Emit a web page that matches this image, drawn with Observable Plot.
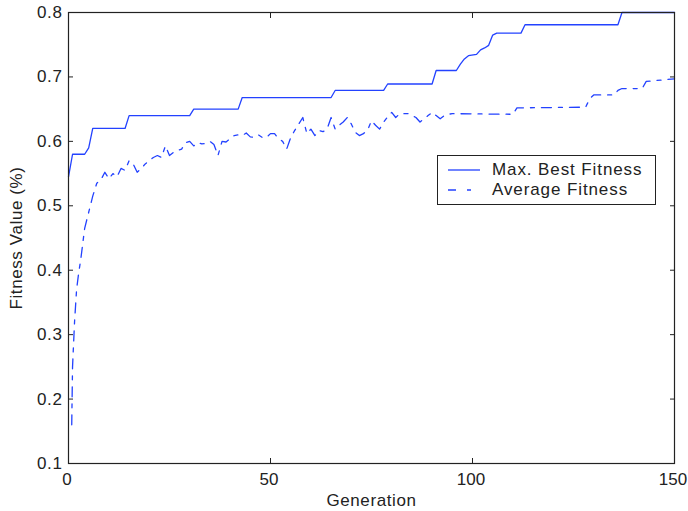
<!DOCTYPE html>
<html>
<head>
<meta charset="utf-8">
<script src="https://cdn.jsdelivr.net/npm/d3@7"></script>
<script src="https://cdn.jsdelivr.net/npm/@observablehq/plot@0.6"></script>
<style>
  html, body { margin: 0; padding: 0; background: #fff; }
  #wrap { position: relative; width: 688px; height: 511px; font-family: "Liberation Sans", Arial, sans-serif; }
  #wrap svg text { letter-spacing: 0.6px; }
  #wrap svg g[aria-label="x-axis tick label"] text { letter-spacing: 0; }
  #legend { position: absolute; left: 437px; top: 155px; width: 219px; height: 50px; border: 1px solid #222; background: #fff; box-sizing: border-box; }
  #legend .row { position: absolute; left: 0; height: 20px; display: flex; align-items: center; font-size: 17px; color: #222; letter-spacing: 0.9px; white-space: nowrap; }
  #legend svg { margin-left: 10px; margin-right: 12px; }
</style>
</head>
<body>
<div id="wrap"></div>
<script>
// ---- data ----
const bestGen = [0, 1, 4, 5, 6, 14, 15, 30, 31, 42, 43, 65, 66, 78, 79, 90, 91, 96, 97, 98, 99, 101, 102, 103, 104, 105, 106, 112, 113, 136, 137, 150];
const bestVal = [0.545, 0.58, 0.58, 0.59, 0.62, 0.62, 0.64, 0.64, 0.65, 0.65, 0.668, 0.668, 0.679, 0.679, 0.689, 0.689, 0.71, 0.71, 0.72, 0.728, 0.733, 0.735, 0.742, 0.745, 0.749, 0.765, 0.768, 0.768, 0.781, 0.781, 0.8, 0.8];

const avgGen = [0.8, 1, 1.5, 2, 2.5, 3, 3.5, 4, 5, 6, 7, 8, 9, 10, 11, 12, 13, 14, 15, 16, 17, 18, 19, 20,
  21, 22, 23, 24, 25, 26, 27, 28, 29, 30, 31, 32, 33, 34, 35, 36, 37, 38, 39, 40,
  41, 42, 43, 44, 45, 46, 47, 48, 49, 50, 51, 52, 53, 54, 55, 56, 57, 58, 59, 60,
  61, 62, 63, 64, 65, 66, 67, 68, 69, 70, 71, 72, 73, 74, 75, 76, 77, 78, 79, 80,
  81, 82, 83, 84, 85, 86, 87, 88, 89, 90, 91, 92, 93, 94, 95, 110, 111, 128, 129, 130, 135, 136, 137, 142, 143, 150];
const avgVal = [0.16, 0.25, 0.32, 0.37, 0.395, 0.415, 0.44, 0.465, 0.49, 0.515, 0.535, 0.54, 0.552, 0.542, 0.55, 0.545, 0.558, 0.555, 0.57, 0.565, 0.552, 0.558, 0.565, 0.57,
  0.575, 0.578, 0.575, 0.593, 0.578, 0.583, 0.586, 0.588, 0.598, 0.6, 0.593, 0.598, 0.596, 0.597, 0.6, 0.595, 0.578, 0.6, 0.599, 0.604,
  0.609, 0.61, 0.609, 0.613, 0.607, 0.606, 0.61, 0.606, 0.606, 0.612, 0.612, 0.604, 0.6, 0.588, 0.606, 0.617, 0.627, 0.637, 0.612, 0.619,
  0.609, 0.617, 0.615, 0.619, 0.637, 0.619, 0.625, 0.63, 0.637, 0.627, 0.614, 0.609, 0.612, 0.617, 0.632, 0.625, 0.619, 0.63, 0.638, 0.645,
  0.637, 0.643, 0.643, 0.643, 0.64, 0.637, 0.63, 0.635, 0.64, 0.645, 0.64, 0.635, 0.64, 0.642, 0.643, 0.642, 0.652, 0.653, 0.666, 0.672, 0.672, 0.679, 0.682, 0.682, 0.693, 0.697];

const xTicks = [0, 50, 100, 150];
const yTicks = [0.1, 0.2, 0.3, 0.4, 0.5, 0.6, 0.7, 0.8];
const seriesNames = ["Max. Best Fitness", "Average Fitness"];
const lineColor = "#2342ff";
const dash = "10,7,4,7";

const best = bestGen.map((g, i) => ({gen: g, val: bestVal[i]}));
const avg = avgGen.map((g, i) => ({gen: g, val: avgVal[i]}));

const chart = Plot.plot({
  width: 688,
  height: 511,
  marginLeft: 68,
  marginRight: 14,
  marginTop: 12,
  marginBottom: 48,
  x: {domain: [0, 150]},
  y: {domain: [0.1, 0.8]},
  style: {fontFamily: "'Liberation Sans', Arial, sans-serif", fontSize: "17px", color: "#222", background: "#fff", overflow: "visible"},
  marks: [
    Plot.line(avg, {x: "gen", y: "val", stroke: lineColor, strokeWidth: 1.3, strokeDasharray: dash}),
    Plot.line(best, {x: "gen", y: "val", stroke: lineColor, strokeWidth: 1.3}),
    Plot.frame({stroke: "#222", strokeWidth: 1.2}),
    Plot.axisX(xTicks, {anchor: "bottom", tickSize: -5, fill: "none", stroke: "#222"}),
    Plot.axisX(xTicks, {anchor: "top", tickSize: -5, fill: "none", stroke: "#222"}),
    Plot.axisY(yTicks, {anchor: "left", tickSize: -5, fill: "none", stroke: "#222"}),
    Plot.axisY(yTicks, {anchor: "right", tickSize: -5, fill: "none", stroke: "#222"}),
    Plot.axisX(xTicks, {anchor: "bottom", tickSize: 0, tickPadding: 9, dx: -1.5, tickFormat: d => String(d),
      label: "Generation", labelAnchor: "center", labelArrow: "none", labelOffset: 42}),
    Plot.axisY(yTicks, {anchor: "left", tickSize: 0, tickPadding: 6, tickFormat: d => d.toFixed(1),
      label: "Fitness Value (%)", labelAnchor: "center", labelArrow: "none", labelOffset: 59})
  ]
});

const wrap = document.getElementById("wrap");
wrap.appendChild(chart);

// legend overlay inside the plot box
const legend = document.createElement("div");
legend.id = "legend";
seriesNames.forEach((name, i) => {
  const row = document.createElement("div");
  row.className = "row";
  row.style.top = (4 + i * 20) + "px";
  const sw = `<svg width="32" height="4"><line x1="0" y1="2" x2="32" y2="2" stroke="${lineColor}" stroke-width="1.3" ${i === 1 ? `stroke-dasharray="8,11,4,11"` : ""}/></svg>`;
  row.innerHTML = sw + `<span>${name}</span>`;
  legend.appendChild(row);
});
wrap.appendChild(legend);
</script>
</body>
</html>
